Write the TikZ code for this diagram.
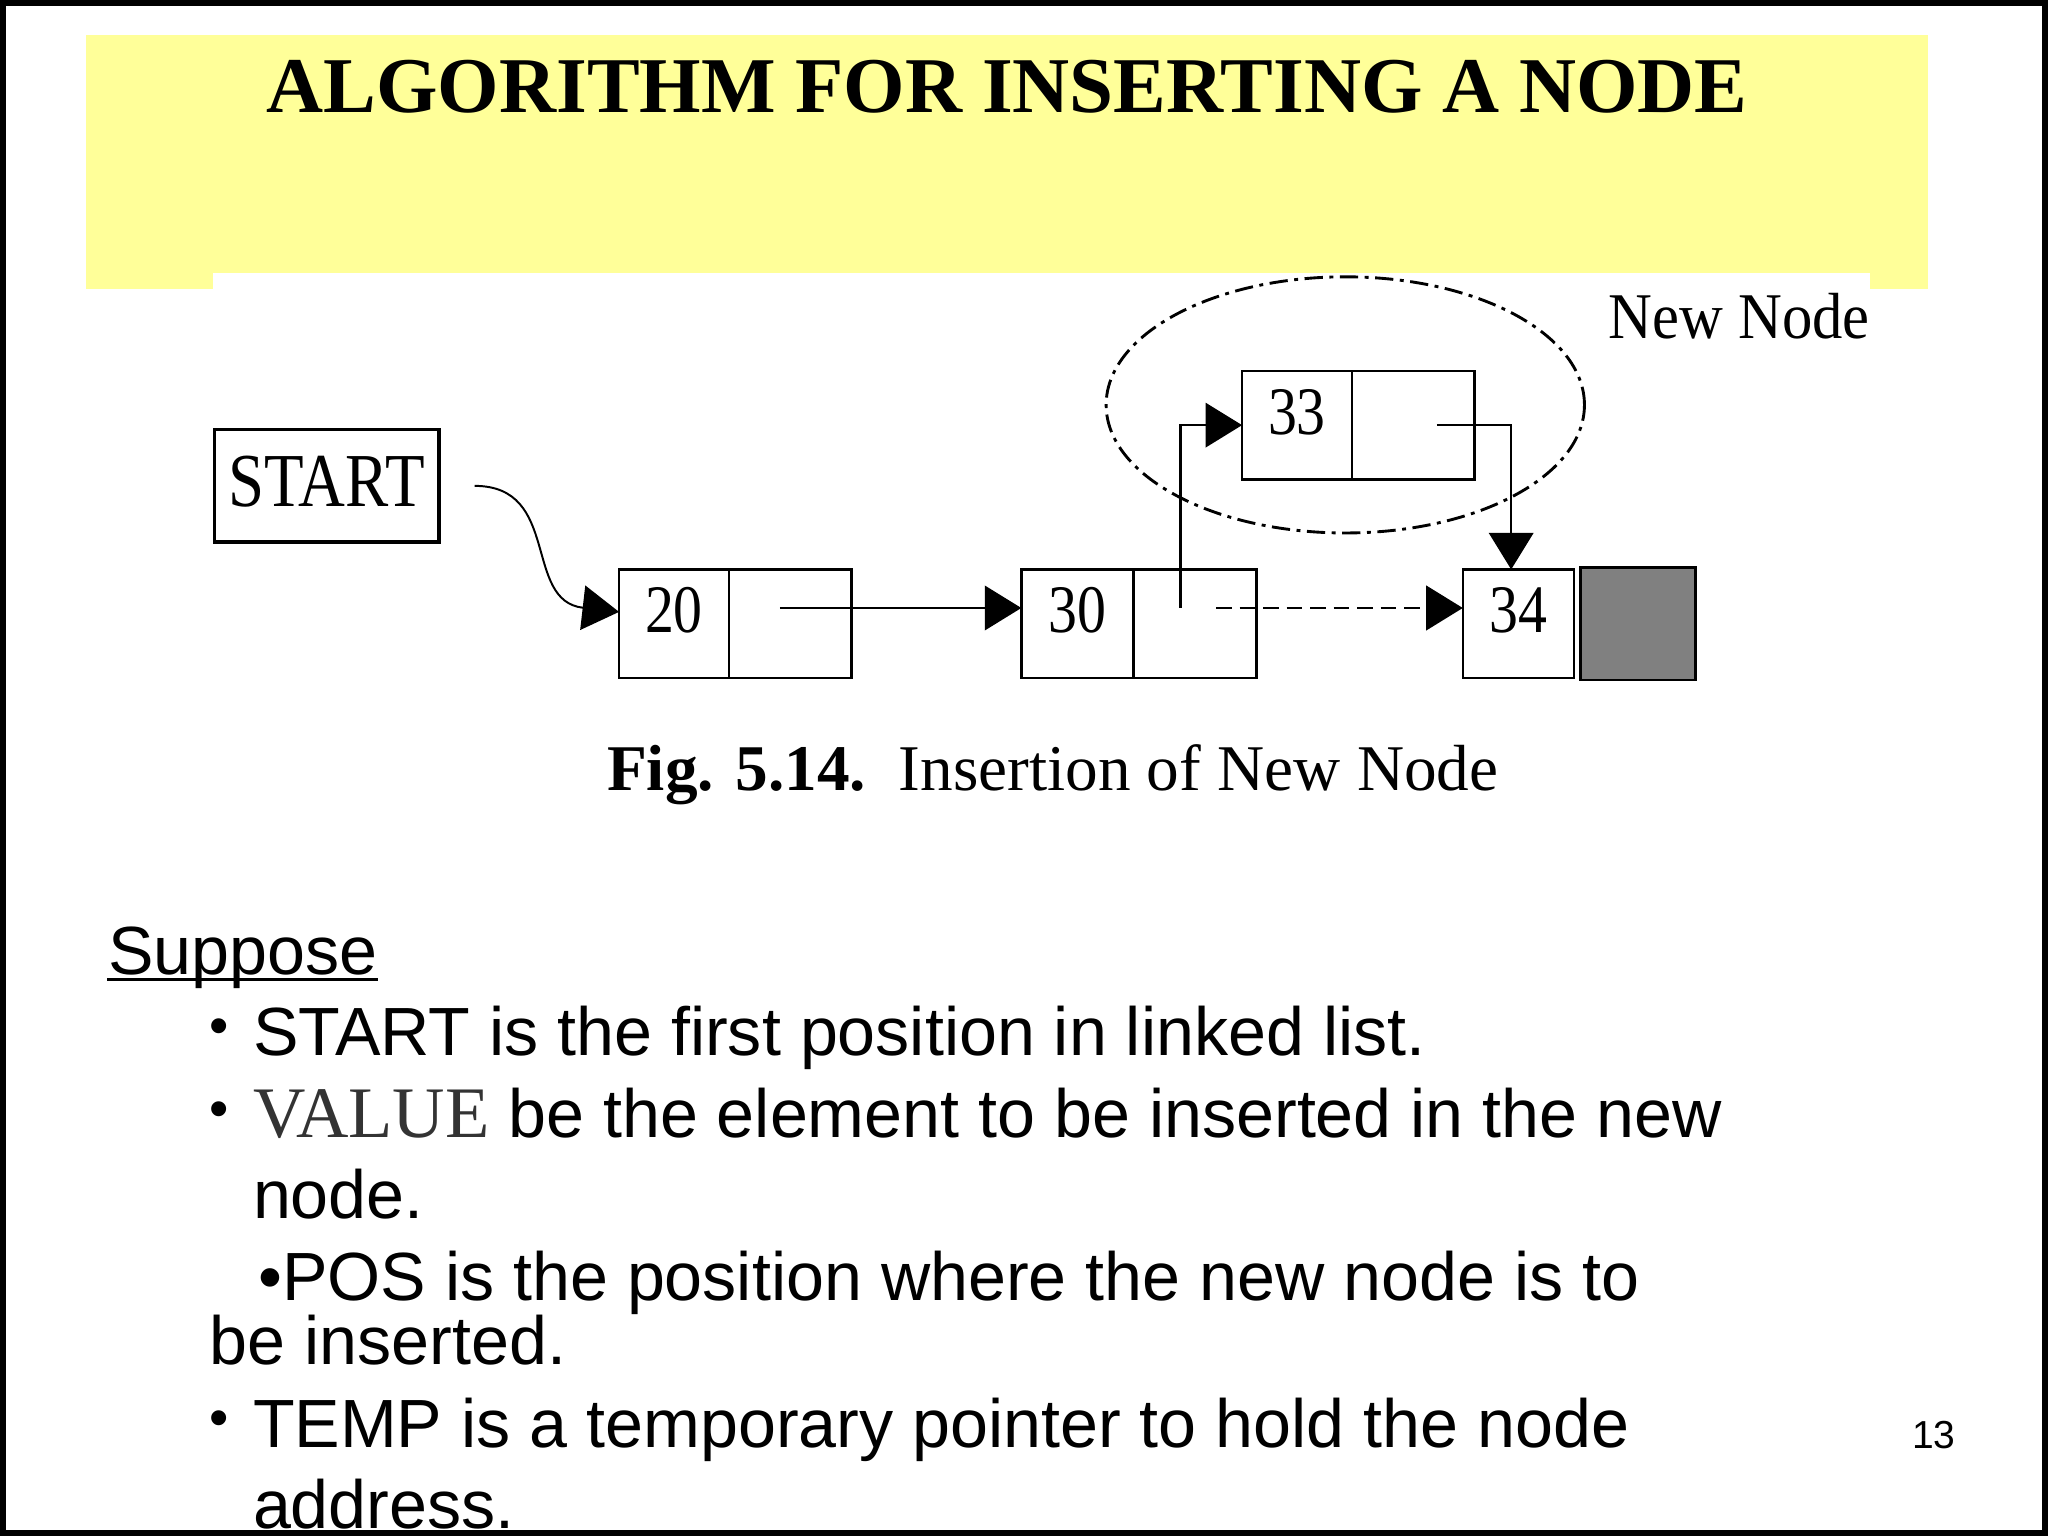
\documentclass[tikz,border=0pt]{standalone}
\usepackage{fontspec}
\setmainfont{Liberation Sans}
\newfontfamily\serifface{Liberation Serif}
\newfontfamily\figface[FakeStretch=0.85]{Liberation Serif}
\newfontfamily\labelface[FakeStretch=0.93]{Liberation Serif}
\usetikzlibrary{positioning,arrows.meta}
\definecolor{slideyellow}{RGB}{255,255,153}
\definecolor{nullgray}{RGB}{128,128,128}
\definecolor{valuegray}{RGB}{51,51,51}
\begin{document}
\begin{tikzpicture}[x=0.01cm,y=-0.01cm,
    cell/.style={draw,line width=0.02cm,inner sep=0pt,outer sep=0pt,minimum height=0.83cm,
      text height=0.35cm,text depth=0.21cm,font=\figface\fontsize{14.8}{16}\selectfont},
    datacell/.style={cell,minimum width=0.84cm},
    ptrcell/.style={cell,minimum width=0.94cm},
    link/.style={line width=0.02cm,-{Triangle[length=0.28cm,width=0.34cm]}},
    line/.style={anchor=base west,inner sep=0pt,font=\fontsize{14.85}{17}\selectfont},
    dot/.style={anchor=base west,inner sep=0pt,font=\fontsize{12}{14}\selectfont}]
  \useasboundingbox (0,0) rectangle (1568,1176);
  \fill[slideyellow] (66,27) rectangle (1476,221);
  \fill[white] (163,209) rectangle (1432,640);
  \node[anchor=base,inner sep=0pt,font=\serifface\bfseries\fontsize{17.2}{20}\selectfont]
    (title) at (771,86) {ALGORITHM FOR INSERTING A NODE};

  \node[draw,line width=0.025cm,minimum width=1.72cm,minimum height=0.86cm,inner sep=0pt,
    text height=0.39cm,text depth=0.07cm,font=\figface\fontsize{16.6}{18}\selectfont]
    (start) at (250,372) {START};
  \node[datacell] (d20) at (516,477.5) {20};
  \node[ptrcell,right=0pt of d20] (p20) {};
  \node[datacell,minimum width=0.86cm] (d30) at (825,477.5) {30};
  \node[ptrcell,right=0pt of d30] (p30) {};
  \node[datacell] (d33) at (993,325.5) {33};
  \node[ptrcell,right=0pt of d33] (p33) {};
  \node[datacell,minimum width=0.85cm] (d34) at (1162.5,477.5) {34};
  \node[cell,fill=nullgray,minimum width=0.88cm,minimum height=0.86cm,right=0.05cm of d34] (null) {};
  \draw[line width=0.022cm,dash pattern=on 0.14cm off 0.05cm on 0.03cm off 0.05cm]
    (1030,310) ellipse [x radius=1.83cm,y radius=0.98cm];
  \node[anchor=base west,inner sep=0pt,font=\labelface\fontsize{14.2}{16}\selectfont]
    (newnode) at (1231,259) {New Node};
  \node[anchor=base,inner sep=0pt,font=\serifface\fontsize{14.2}{16}\selectfont]
    (caption) at (806,605) {\textbf{Fig. 5.14.}\hspace{0.5em}Insertion of New Node};

  \begin{scope}[link]
    \draw[line width=0.015cm,shorten <=0.26cm] (start.east) .. controls (430,372) and (400,460) .. ([yshift=0.09cm]d20.west);
    \draw ([xshift=-0.08cm,yshift=0.12cm]p20.center) -- ([yshift=0.12cm]d30.west);
    \draw ([xshift=-0.11cm,yshift=0.12cm]p30.center) |- (d33.west);
    \draw ([xshift=0.18cm]p33.center) -| ([xshift=-0.055cm]d34.north);
    \draw[dash pattern=on 0.12cm off 0.06cm] ([xshift=0.16cm,yshift=0.12cm]p30.center) -- ([yshift=0.12cm]d34.west);
  \end{scope}

  \node[line] (suppose) at (82,746) {Suppose};
  \draw[line width=0.025cm] ([yshift=-0.04cm]suppose.base west) -- ([yshift=-0.04cm]suppose.base east);
  \node[dot] (b1) at (160,800) {•};
  \node[line] (l1) at (193,808) {START is the first position in linked list.};
  \node[dot] (b2) at (160,863) {•};
  \node[line] (l2) at (193,871) {{\serifface\color{valuegray}\fontsize{15.8}{17}\selectfont VALUE} be the element to be inserted in the new};
  \node[line] (l3) at (193,933) {node.};
  \node[line] (l4) at (197,996) {•POS is the position where the new node is to};
  \node[line] (l5) at (160,1045) {be inserted.};
  \node[dot] (b6) at (160,1100) {•};
  \node[line] (l6) at (193,1108) {TEMP is a temporary pointer to hold the node};
  \node[line] (l7) at (193,1170) {address.};
  \node[anchor=base east,inner sep=0pt,font=\fontsize{8.5}{10}\selectfont] (pageno) at (1498,1109) {13};

  \draw[line width=0.045cm] (2,2) rectangle (1566,1174);
\end{tikzpicture}
\end{document}
